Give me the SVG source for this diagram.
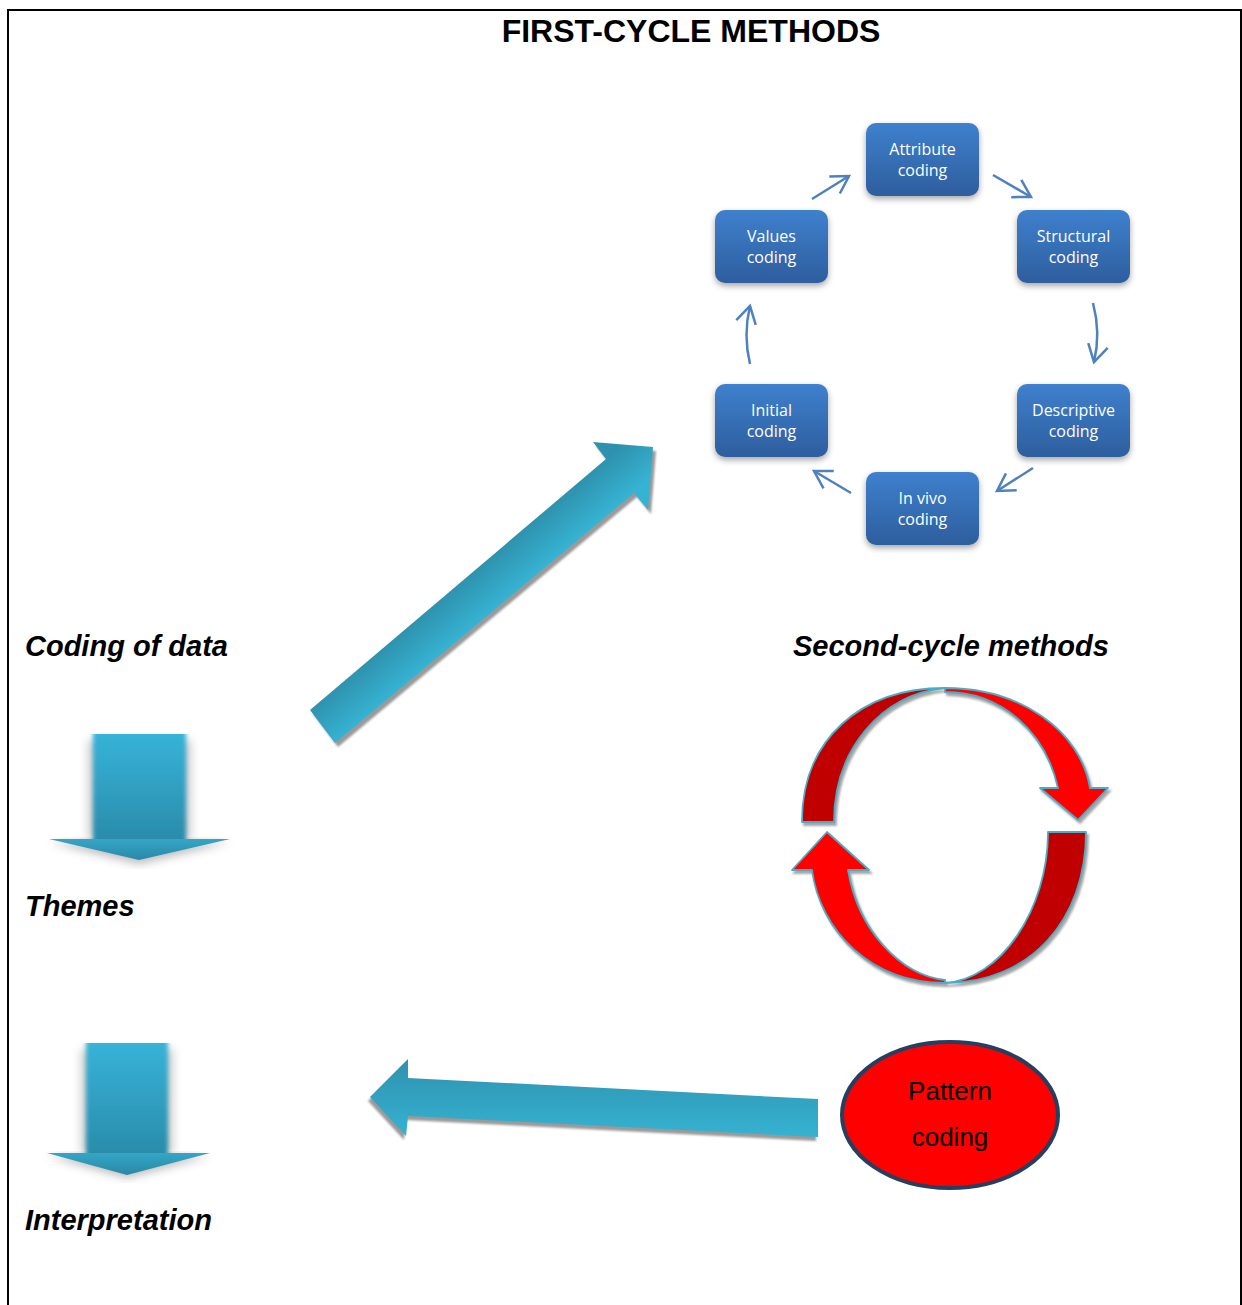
<svg xmlns="http://www.w3.org/2000/svg" width="1242" height="1305" viewBox="0 0 1242 1305">
  <defs>
    <style>
      .frame { fill: none; stroke: #000; stroke-width: 2; }
      .title { font-family: "Liberation Sans", Arial, sans-serif; font-weight: bold; font-size: 32px; fill: #000; }
      .label { font-family: "Liberation Sans", Arial, sans-serif; font-weight: bold; font-style: italic; font-size: 29px; fill: #000; }
      .box { fill: url(#boxGrad); filter: url(#boxShadow); }
      .boxText { font-family: "Open Sans", "Noto Sans", sans-serif; font-size: 16px; fill: #fff; text-anchor: middle; }
      .link { fill: none; stroke: #4f81bd; stroke-width: 2.5; marker-end: url(#chevron); }
      .ribbonDark { fill: #c00000; stroke: #4bacc6; stroke-width: 1.8; stroke-linejoin: round; }
      .ribbonBright { fill: #ff0000; stroke: #4bacc6; stroke-width: 1.8; stroke-linejoin: round; }
      .ribbonShadow { fill: #a6a6a6; stroke: #a6a6a6; stroke-width: 1.8; }
      .bigShadow { fill: #9a9a9a; }
      .patternText { font-family: "Liberation Sans", Arial, sans-serif; font-size: 26px; fill: #000; text-anchor: middle; }
    </style>
    <linearGradient id="boxGrad" x1="0" y1="0" x2="0" y2="1">
      <stop offset="0" stop-color="#3f80cd"/>
      <stop offset="1" stop-color="#2d5e9e"/>
    </linearGradient>
    <linearGradient id="diagGrad" gradientUnits="userSpaceOnUse" x1="458" y1="584" x2="485" y2="616">
      <stop offset="0" stop-color="#2e92ae"/>
      <stop offset="1" stop-color="#36b2d2"/>
    </linearGradient>
    <linearGradient id="leftGrad" x1="0" y1="0" x2="0" y2="1">
      <stop offset="0" stop-color="#2e92ae"/>
      <stop offset="1" stop-color="#36b2d2"/>
    </linearGradient>
    <linearGradient id="shaftGrad" x1="0" y1="0" x2="0" y2="1">
      <stop offset="0" stop-color="#37b3d8"/>
      <stop offset="1" stop-color="#2a8cab"/>
    </linearGradient>
    <linearGradient id="headGrad" x1="0" y1="0" x2="0" y2="1">
      <stop offset="0" stop-color="#34a6c6"/>
      <stop offset="1" stop-color="#2a88a6"/>
    </linearGradient>
    <filter id="boxShadow" x="-20%" y="-20%" width="140%" height="150%">
      <feDropShadow dx="0" dy="3" stdDeviation="3" flood-color="#000" flood-opacity="0.35"/>
    </filter>
    <filter id="soft" x="-20%" y="-20%" width="140%" height="140%">
      <feGaussianBlur stdDeviation="1.2"/>
    </filter>
    <filter id="halo" x="-40%" y="-20%" width="180%" height="140%">
      <feGaussianBlur stdDeviation="5"/>
    </filter>
    <filter id="edgeBlur" x="-10%" y="-5%" width="120%" height="110%">
      <feGaussianBlur stdDeviation="2.2 0.6"/>
    </filter>
    <marker id="chevron" viewBox="-20 -12 24 24" refX="0" refY="0" markerWidth="24" markerHeight="24" markerUnits="userSpaceOnUse" orient="auto">
      <path d="M -17 -10 L 0 0 L -17 10" fill="none" stroke="#4f81bd" stroke-width="2.5"/>
    </marker>
  </defs>

  <rect width="1242" height="1305" fill="#fff"/>
  <rect class="frame" x="8" y="10" width="1233" height="1320"/>

  <text class="title" x="691" y="42" text-anchor="middle">FIRST-CYCLE METHODS</text>

  <!-- stage labels -->
  <text class="label" x="25" y="656">Coding of data</text>
  <text class="label" x="25" y="916">Themes</text>
  <text class="label" x="25" y="1230">Interpretation</text>
  <text class="label" x="793" y="656">Second-cycle methods</text>

  <!-- first-cycle nodes -->
  <g id="attribute">
    <rect class="box" x="866" y="123" width="113" height="73" rx="10"/>
    <text class="boxText" x="922.5" y="155">Attribute</text>
    <text class="boxText" x="922.5" y="176">coding</text>
  </g>
  <g id="structural">
    <rect class="box" x="1017" y="210" width="113" height="73" rx="10"/>
    <text class="boxText" x="1073.5" y="242">Structural</text>
    <text class="boxText" x="1073.5" y="263">coding</text>
  </g>
  <g id="descriptive">
    <rect class="box" x="1017" y="384" width="113" height="73" rx="10"/>
    <text class="boxText" x="1073.5" y="416">Descriptive</text>
    <text class="boxText" x="1073.5" y="437">coding</text>
  </g>
  <g id="invivo">
    <rect class="box" x="866" y="472" width="113" height="73" rx="10"/>
    <text class="boxText" x="922.5" y="504">In vivo</text>
    <text class="boxText" x="922.5" y="525">coding</text>
  </g>
  <g id="initial">
    <rect class="box" x="715" y="384" width="113" height="73" rx="10"/>
    <text class="boxText" x="771.5" y="416">Initial</text>
    <text class="boxText" x="771.5" y="437">coding</text>
  </g>
  <g id="values">
    <rect class="box" x="715" y="210" width="113" height="73" rx="10"/>
    <text class="boxText" x="771.5" y="242">Values</text>
    <text class="boxText" x="771.5" y="263">coding</text>
  </g>

  <!-- second-cycle loop -->
  <g id="second-cycle-loop">
    <g transform="translate(2,3)" filter="url(#soft)">
      <path class="ribbonShadow" d="M802,822 C802,740 860,688 945,688 C880,695 834,750 834,822 Z"/>
      <path class="ribbonShadow" d="M945,688 C1020,688 1080,730 1090,788 L1108,788 L1078,820 L1040,788 L1058,788 C1045,730 1000,692 945,692 Z"/>
      <path class="ribbonShadow" d="M1086,832 C1086,920 1030,983 945,983 C1000,980 1048,910 1048,832 Z"/>
      <path class="ribbonShadow" d="M945,983 C870,983 820,930 812,870 L792,870 L827,832 L869,870 L848,870 C858,930 900,975 945,980 Z"/>
    </g>
    <path class="ribbonDark" d="M802,822 C802,740 860,688 945,688 C880,695 834,750 834,822 Z"/>
    <path class="ribbonBright" d="M945,688 C1020,688 1080,730 1090,788 L1108,788 L1078,820 L1040,788 L1058,788 C1045,730 1000,692 945,692 Z"/>
    <path class="ribbonDark" d="M1086,832 C1086,920 1030,983 945,983 C1000,980 1048,910 1048,832 Z"/>
    <path class="ribbonBright" d="M945,983 C870,983 820,930 812,870 L792,870 L827,832 L869,870 L848,870 C858,930 900,975 945,980 Z"/>
  </g>

  <!-- pattern coding node -->
  <g id="pattern">
    <ellipse cx="950" cy="1115" rx="108" ry="73" fill="#ff0000" stroke="#243f60" stroke-width="4"/>
    <text class="patternText" x="950" y="1100">Pattern</text>
    <text class="patternText" x="950" y="1146">coding</text>
  </g>

  <!-- stage arrows on the left -->
  <g id="down-arrow-1">
    <rect x="88" y="740" width="103" height="100" fill="#9a9a9a" opacity="0.5" filter="url(#halo)"/>
    <polygon points="49,842 230,842 139,864" fill="#777" opacity="0.5" filter="url(#halo)"/>
    <rect x="93" y="734" width="93" height="106" fill="url(#shaftGrad)" filter="url(#edgeBlur)"/>
    <polygon points="49,839 230,839 139,860" fill="url(#headGrad)"/>
  </g>
  <g id="down-arrow-2">
    <rect x="81" y="1049" width="92" height="105" fill="#9a9a9a" opacity="0.5" filter="url(#halo)"/>
    <polygon points="47,1156 210,1156 127,1178" fill="#777" opacity="0.5" filter="url(#halo)"/>
    <rect x="86" y="1043" width="82" height="111" fill="url(#shaftGrad)" filter="url(#edgeBlur)"/>
    <polygon points="47,1153 210,1153 127,1175" fill="url(#headGrad)"/>
  </g>

  <!-- connectors -->
  <g id="connectors">
    <path class="link" d="M812,199 L849,176"/>
    <path class="link" d="M993,175 L1031,197"/>
    <path class="link" d="M1093,303 Q1101,333 1094,362"/>
    <path class="link" d="M1033,468 L997,491"/>
    <path class="link" d="M851,493 L814,471"/>
    <path class="link" d="M750,364 Q743,335 750,306"/>

    <g id="to-first-cycle">
      <polygon class="bigShadow" transform="translate(3,4)" filter="url(#soft)" points="310,710 335,743 634,493 648,510 653,447 593,442 606,459"/>
      <polygon fill="url(#diagGrad)" points="310,710 335,743 634,493 648,510 653,447 593,442 606,459"/>
    </g>
    <g id="from-pattern">
      <polygon class="bigShadow" transform="translate(-2,4)" filter="url(#soft)" points="370,1097 408,1059 408,1078 818,1099 818,1137 408,1116 406,1136"/>
      <polygon fill="url(#leftGrad)" points="370,1097 408,1059 408,1078 818,1099 818,1137 408,1116 406,1136"/>
    </g>
  </g>
</svg>
